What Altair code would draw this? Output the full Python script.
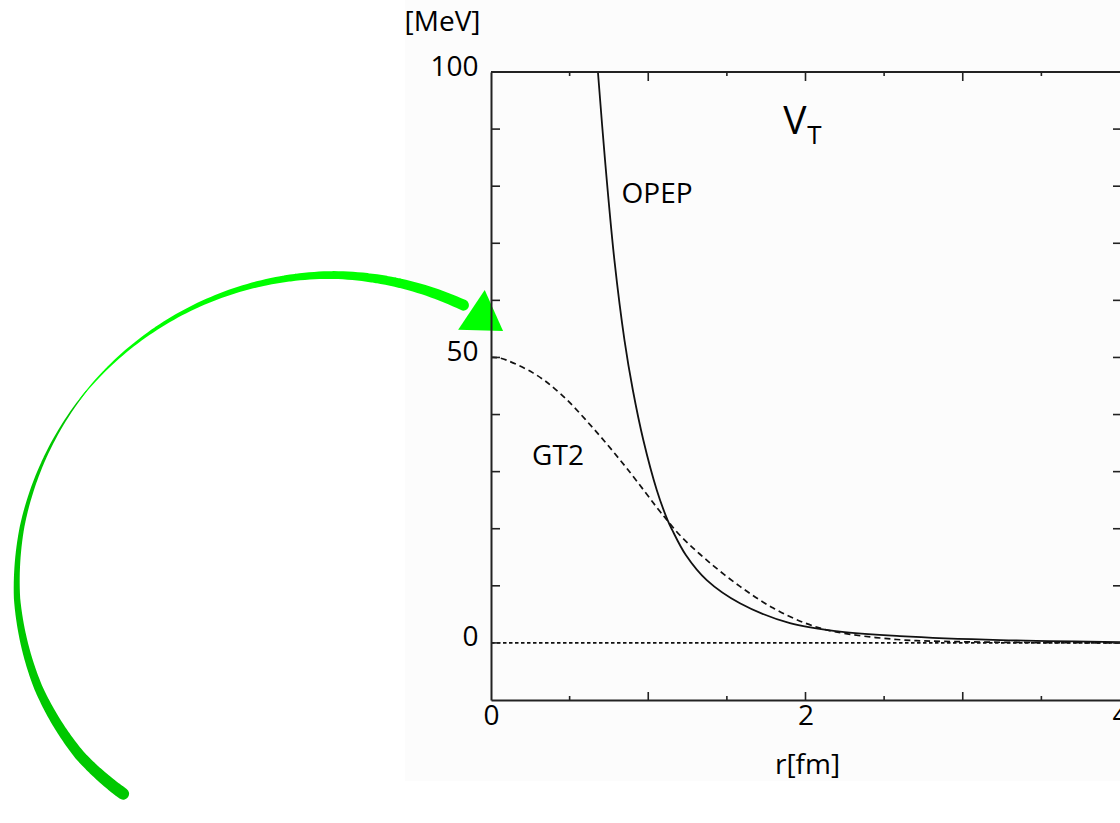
import altair as alt
import numpy as np
import pandas as pd

# Tensor potential V_T(r): one-pion exchange (OPEP) and the Gaussian GT2 fit
opep_r = [0.680, 0.725, 0.785, 0.849, 0.902, 0.969, 1.054, 1.123, 1.152, 1.239,
          1.372, 1.583, 1.901, 2.219, 2.60, 3.24, 4.00]
opep_v = [100.0, 84.6, 67.0, 53.0, 44.3, 35.5, 26.8, 21.5, 19.8, 15.4,
          11.0, 6.95, 3.45, 1.98, 1.20, 0.50, 0.15]

gt2_r = [0.0, 0.057, 0.267, 0.44, 0.65, 0.863, 1.075, 1.117, 1.20, 1.372,
         1.583, 1.795, 2.00, 2.18, 2.58, 3.00, 4.00]
gt2_v = [50.0, 49.9, 47.3, 43.7, 37.6, 30.6, 23.0, 21.6, 18.9, 14.5,
         9.9, 6.1, 3.45, 2.0, 0.6, 0.2, 0.0]

x_labels = [0, 2, 4]
y_labels = [0, 50, 100]
x_major_ticks = [1, 2, 3]
x_minor_ticks = [0.5, 1.5, 2.5, 3.5]
y_ticks = [0, 10, 20, 30, 40, 50, 60, 70, 80, 90]

curve_names = ["OPEP", "GT2"]
curve_label_r = [1.056, 0.426]
curve_label_v = [78.5, 32.6]

# layout of the figure (pixels)
W, H = 629, 628
PAD_L, PAD_T = 491, 72
X_DOM = [0, 4]
Y_DOM = [-10, 100]
FONT = "Open Sans"
FS = 28
INK = "#222222"


def to_r(px):
    return X_DOM[0] + (np.asarray(px) - PAD_L) / W * (X_DOM[1] - X_DOM[0])


def to_v(py):
    return Y_DOM[1] - (np.asarray(py) - PAD_T) / H * (Y_DOM[1] - Y_DOM[0])


xs = alt.Scale(domain=X_DOM, nice=False, zero=False)
ys = alt.Scale(domain=Y_DOM, nice=False, zero=False)

x_axis = alt.Axis(
    values=x_labels, ticks=False, grid=False, domain=True, domainColor=INK,
    domainWidth=2, labelFont=FONT, labelFontSize=FS, labelColor="black",
    labelPadding=2, labelFlush=False, labelOverlap=False, zindex=2,
    title="r[fm]", titleFont=FONT, titleFontSize=FS, titleFontWeight="normal",
    titleColor="black", titleX=316, titleY=65, titleBaseline="middle",
    titleAnchor="start", titleAlign="center",
)
y_axis = alt.Axis(
    values=y_labels, ticks=False, grid=False, domain=True, domainColor=INK,
    domainWidth=2, labelFont=FONT, labelFontSize=FS, labelColor="black",
    labelPadding=13, labelOffset=-5, labelFlush=False, labelOverlap=False,
    zindex=2,
    title="[MeV]", titleFont=FONT, titleFontSize=FS, titleFontWeight="normal",
    titleColor="black", titleAngle=0, titleAlign="right", titleX=-11,
    titleY=-50, titleBaseline="middle", titleAnchor="start",
)


def X(field="r"):
    return alt.X(f"{field}:Q", scale=xs, axis=x_axis)


def Y(field="v"):
    return alt.Y(f"{field}:Q", scale=ys, axis=y_axis)


gt2_df = pd.DataFrame({"r": gt2_r, "v": gt2_v})
opep_df = pd.DataFrame({"r": opep_r, "v": opep_v})

# pale sheet behind the figure
sheet = alt.Chart(pd.DataFrame({"a": [0]})).mark_rect(color="#fcfcfc").encode(
    x=alt.value(-86), x2=alt.value(W), y=alt.value(-PAD_T), y2=alt.value(709)
)

gt2_line = alt.Chart(gt2_df).mark_line(
    color="#111111", strokeWidth=1.7, strokeDash=[6, 4], interpolate="catmull-rom"
).encode(x=X(), y=Y())

opep_line = alt.Chart(opep_df).mark_line(
    color="#111111", strokeWidth=1.8, interpolate="catmull-rom"
).encode(x=X(), y=Y())

# zero reference and the top frame edge
zero_df = pd.DataFrame({"r": [X_DOM[0]], "r2": [X_DOM[1]], "v": [0]})
zero_line = alt.Chart(zero_df).mark_rule(
    color="#111111", strokeWidth=1.8, strokeDash=[3.5, 2.5]
).encode(x=X(), x2="r2:Q", y=Y())

top_df = pd.DataFrame({"r": [X_DOM[0]], "r2": [X_DOM[1]], "v": [Y_DOM[1]]})
top_edge = alt.Chart(top_df).mark_rule(color=INK, strokeWidth=2).encode(
    x=X(), x2="r2:Q", y=Y()
)

# inward ticks on all four sides
tick_style = dict(color=INK, strokeWidth=1.6)
xmaj = pd.DataFrame({"r": x_major_ticks})
xmin = pd.DataFrame({"r": x_minor_ticks})
ytk = pd.DataFrame({"v": y_ticks})

ticks = [
    alt.Chart(xmaj).mark_rule(**tick_style).encode(x=X(), y=alt.value(H), y2=alt.value(H - 8)),
    alt.Chart(xmin).mark_rule(**tick_style).encode(x=X(), y=alt.value(H), y2=alt.value(H - 4)),
    alt.Chart(xmaj).mark_rule(**tick_style).encode(x=X(), y=alt.value(0), y2=alt.value(9)),
    alt.Chart(xmin).mark_rule(**tick_style).encode(x=X(), y=alt.value(0), y2=alt.value(4)),
    alt.Chart(ytk).mark_rule(**tick_style).encode(y=Y(), x=alt.value(0), x2=alt.value(9)),
    alt.Chart(ytk).mark_rule(**tick_style).encode(y=Y(), x=alt.value(W), x2=alt.value(W - 7)),
]

# curve names
names_df = pd.DataFrame({"r": curve_label_r, "v": curve_label_v, "t": curve_names})
names = alt.Chart(names_df).mark_text(
    font=FONT, fontSize=FS, color="black", align="center", baseline="middle"
).encode(x=X(), y=Y(), text="t:N")

vt_df = pd.DataFrame({"r": [1.933], "v": [91.2], "t": ["V"]})
vt_main = alt.Chart(vt_df).mark_text(
    font=FONT, fontSize=39, color="black", align="center", baseline="middle"
).encode(x=X(), y=Y(), text="t:N")
sub_df = pd.DataFrame({"r": [2.056], "v": [88.8], "t": ["T"]})
vt_sub = alt.Chart(sub_df).mark_text(
    font=FONT, fontSize=26, color="black", align="center", baseline="middle"
).encode(x=X(), y=Y(), text="t:N")

# curved green arrow pointing at the 50 MeV mark
arc_cx, arc_cy = 333.0, 598.0
arc_theta = [60, 90, 140, 167, 180, 197, 212, 223]
arc_rad = [320, 323, 322, 319, 316, 308, 298, 287]


def arc_points(t0, t1, w0, w1, n=90):
    th = np.linspace(t0, t1, n)
    rad = np.interp(th, arc_theta, arc_rad)
    px = arc_cx + rad * np.cos(np.radians(th))
    py = arc_cy - rad * np.sin(np.radians(th))
    return pd.DataFrame({
        "r": to_r(px), "v": to_v(py), "w": np.linspace(w0, w1, n), "i": np.arange(n)
    })


lower = arc_points(223, 140, 12, 1)
upper = arc_points(142, 66, 1, 11)

arc_lower = alt.Chart(lower).mark_trail(color="#00c800").encode(
    x=X(), y=Y(), size=alt.Size("w:Q", scale=None, legend=None), order="i:Q"
)
arc_upper = alt.Chart(upper).mark_trail(color="#00ff00").encode(
    x=X(), y=Y(), size=alt.Size("w:Q", scale=None, legend=None), order="i:Q"
)

head_df = pd.DataFrame({"r": to_r([487.25]), "v": to_v([320.5])})
head = alt.Chart(head_df).mark_point(
    shape="M-1,-1.26L1,0L-1,1.26Z", filled=True, color="#00ff00", opacity=1,
    size=38 * 38, angle=33.7, strokeWidth=0
).encode(x=X(), y=Y())

chart = alt.layer(
    sheet, gt2_line, opep_line, zero_line, top_edge, *ticks,
    names, vt_main, vt_sub, arc_lower, arc_upper, head
).properties(
    width=W, height=H,
    padding={"left": PAD_L, "top": PAD_T, "right": 0, "bottom": 823 - PAD_T - H},
    autosize=alt.AutoSizeParams(type="none"),
    background="white",
).configure_view(stroke=None)

chart.save("out.html", embed_options={"renderer": "svg", "actions": False})
